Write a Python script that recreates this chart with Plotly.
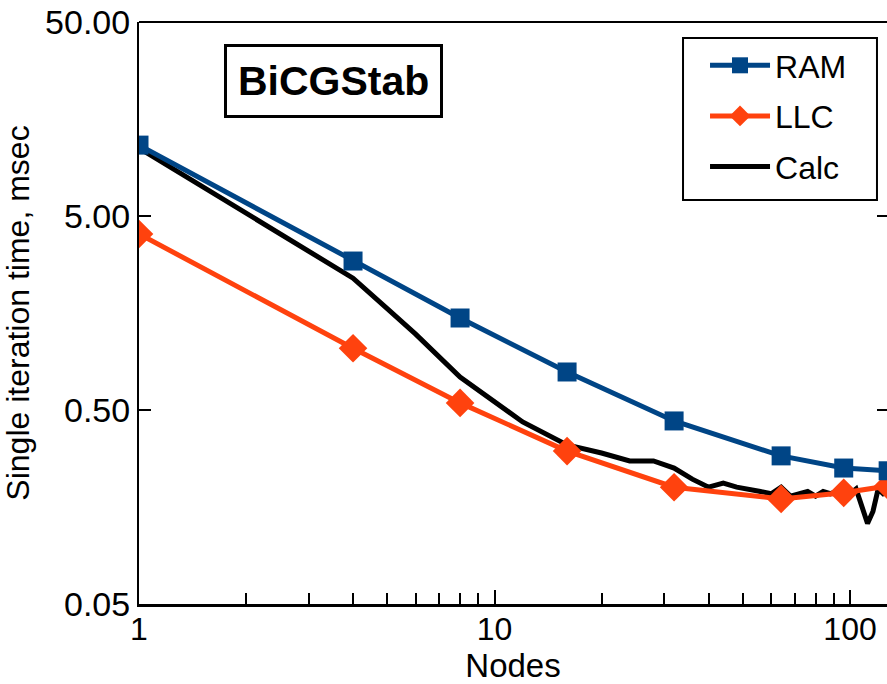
import plotly.graph_objects as go

nodes = [1, 4, 8, 16, 32, 64, 96, 128]
ram = [11.6, 2.93, 1.49, 0.785, 0.439, 0.29, 0.251, 0.243]
llc = [4.04, 1.04, 0.544, 0.307, 0.200, 0.174, 0.187, 0.203]

calc_nodes = [1, 2, 4, 5, 6, 8, 10, 12, 16, 20, 24, 28, 32, 36, 40, 44, 48, 52,
              56, 60, 64, 68, 72, 76, 80, 84, 88, 92, 96, 100, 104, 108, 112,
              116, 120, 124, 128]
calc = [11.2, 5.15, 2.39, 1.66, 1.23, 0.74, 0.55, 0.434, 0.330, 0.30, 0.273,
        0.273, 0.251, 0.22, 0.20, 0.21, 0.20, 0.196, 0.19, 0.185, 0.20, 0.18,
        0.185, 0.19, 0.18, 0.19, 0.185, 0.19, 0.183, 0.185, 0.196, 0.16, 0.13,
        0.15, 0.196, 0.185, 0.19]

y_ticks = [0.05, 0.5, 5, 50]
y_ticktext = ["0.05", "0.50", "5.00", "50.00"]
x_ticks = [1, 10, 100]
x_ticktext = ["1", "10", "100"]
x_minor = [2, 3, 4, 5, 6, 7, 8, 9, 20, 30, 40, 50, 60, 70, 80, 90]
y_range = [-1.3012, 1.6991]

FONT = "Liberation Sans, Arial, sans-serif"

fig = go.Figure()
fig.add_trace(go.Scatter(x=calc_nodes, y=calc, name="Calc", mode="lines",
                         line=dict(color="black", width=5), legendrank=3,
                         legendgroup="c"))
fig.add_trace(go.Scatter(x=nodes, y=llc, name="LLC", mode="lines+markers",
                         line=dict(color="#ff420e", width=5),
                         marker=dict(symbol="diamond", size=22, color="#ff420e"),
                         legendrank=2, legendgroup="b"))
fig.add_trace(go.Scatter(x=nodes, y=ram, name="RAM", mode="lines+markers",
                         line=dict(color="#004586", width=5),
                         marker=dict(symbol="square", size=19, color="#004586"),
                         legendrank=1, legendgroup="a", yaxis="y2"))

fig.update_layout(
    width=887, height=684,
    margin=dict(l=139, r=0, t=22, b=80),
    paper_bgcolor="white", plot_bgcolor="white",
    font=dict(family=FONT, size=32, color="black"),
    showlegend=True,
    legend=dict(x=0.7273, y=0.9725, xanchor="left", yanchor="top",
                borderwidth=0, bgcolor="rgba(0,0,0,0)",
                font=dict(size=32), tracegroupgap=6, itemwidth=60,
                indentation=22),
    xaxis=dict(type="log", range=[0, 2.104], tickvals=x_ticks,
               ticktext=x_ticktext, ticks="inside", ticklen=14, tickwidth=2,
               tickcolor="black", showline=True, linecolor="black",
               linewidth=3, showgrid=False, zeroline=False,
               tickfont=dict(size=32), ticklabeloverflow="allow",
               ticklabelstandoff=-5,
               minor=dict(tickmode="array", tickvals=x_minor, ticks="inside",
                          ticklen=11, tickwidth=2, tickcolor="black",
                          showgrid=False),
               title=dict(text="Nodes", standoff=9, font=dict(size=33))),
    yaxis=dict(type="log", range=y_range, tickvals=y_ticks,
               ticktext=y_ticktext, ticks="inside", ticklen=12, tickwidth=2,
               tickcolor="black", showline=True, linecolor="black",
               linewidth=2, showgrid=False, zeroline=False,
               tickfont=dict(size=34), ticklabeloverflow="allow",
               title=dict(text="Single iteration time, msec", standoff=8,
                          font=dict(size=32))),
    yaxis2=dict(type="log", range=y_range, overlaying="y",
                side="right", tickvals=y_ticks, showticklabels=False,
                ticks="inside", ticklen=10, tickwidth=2, tickcolor="black",
                showline=False, showgrid=False, zeroline=False),
    shapes=[
        dict(type="line", xref="paper", yref="paper", x0=0, x1=1,
             y0=1, y1=1, line=dict(color="black", width=2)),
        dict(type="rect", xref="paper", yref="paper", x0=0.7273, x1=0.9866,
             y0=0.6942, y1=0.9725, line=dict(color="black", width=2),
             fillcolor="white", layer="below"),
    ],
    annotations=[dict(text="<b>BiCGStab</b>", xref="paper", yref="paper",
                      x=0.26, y=0.8985, xanchor="center", yanchor="middle",
                      showarrow=False, font=dict(size=41, color="black"),
                      bordercolor="black", borderwidth=3, borderpad=11,
                      bgcolor="white")],
)

fig.write_html("out.html",
               config={"displayModeBar": False},
               post_script="document.body.style.margin='0';"
                           "document.body.style.overflow='hidden';")
